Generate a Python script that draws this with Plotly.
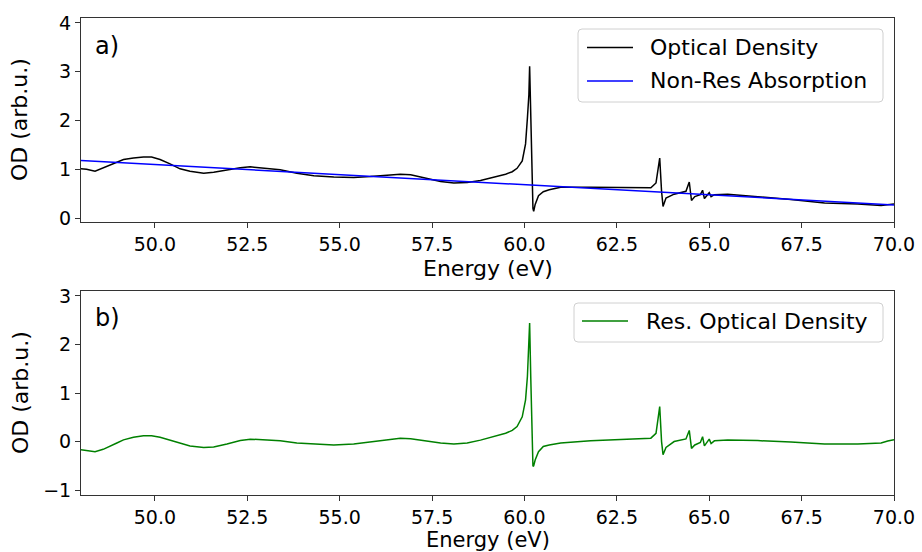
import plotly.graph_objects as go

energy = [48.0, 48.15, 48.38, 48.6, 48.79, 48.97, 49.15, 49.42, 49.69, 49.91, 50.14, 50.41, 50.68,
          50.95, 51.32, 51.59, 51.95, 52.31, 52.58, 52.85, 53.39, 53.84, 54.3, 54.84, 55.38, 55.83,
          56.19, 56.64, 56.92, 57.28, 57.73, 58.09, 58.45, 58.81, 59.27, 59.49, 59.67, 59.8, 59.94,
          60.03, 60.08, 60.12, 60.14, 60.17, 60.2, 60.23, 60.25, 60.29, 60.38, 60.51, 60.67, 60.98,
          61.79, 62.7, 63.42, 63.56, 63.66, 63.71, 63.75, 63.83, 64.05, 64.37, 64.46, 64.52, 64.61,
          64.76, 64.82, 64.87, 64.96, 65.0, 65.05, 65.14, 65.5, 66.31, 67.21, 68.12, 69.02, 69.65,
          69.83, 70.0]

optical_density = [1.01, 1.00, 0.96, 1.03, 1.08, 1.15, 1.20, 1.23, 1.25, 1.25, 1.20, 1.11, 1.01,
                   0.96, 0.92, 0.94, 0.99, 1.03, 1.05, 1.03, 0.99, 0.92, 0.87, 0.84, 0.83, 0.85,
                   0.87, 0.90, 0.89, 0.83, 0.75, 0.72, 0.73, 0.77, 0.85, 0.90, 0.95, 1.02, 1.17,
                   1.52, 2.05, 2.53, 3.11, 1.98, 0.98, 0.20, 0.14, 0.28, 0.46, 0.54, 0.58, 0.63,
                   0.63, 0.62, 0.62, 0.72, 1.23, 0.55, 0.24, 0.41, 0.49, 0.55, 0.74, 0.36, 0.44,
                   0.48, 0.57, 0.40, 0.49, 0.52, 0.44, 0.48, 0.49, 0.44, 0.38, 0.31, 0.29, 0.26,
                   0.28, 0.29]

nonres_energy = [48.0, 70.0]
nonres_absorption = [1.18, 0.27]

res_optical_density = [-0.17, -0.18, -0.21, -0.16, -0.10, -0.03, 0.035, 0.09, 0.12, 0.12, 0.09, 0.035, -0.03,
                       -0.09, -0.12, -0.11, -0.05, 0.02, 0.05, 0.035, 0.015, -0.03, -0.055, -0.07, -0.05, -0.01,
                       0.035, 0.07, 0.06, 0.015, -0.03, -0.05, -0.03, 0.03, 0.12, 0.17, 0.23, 0.31, 0.51,
                       0.86, 1.34, 1.89, 2.44, 1.34, 0.31, -0.51, -0.50, -0.38, -0.21, -0.10, -0.07, -0.03,
                       0.015, 0.05, 0.07, 0.17, 0.72, 0.0, -0.27, -0.12, 0.0, 0.055, 0.23, -0.14, -0.07,
                       -0.02, 0.10, -0.09, 0.02, 0.05, -0.04, 0.015, 0.03, 0.02, -0.01, -0.05, -0.05, -0.03,
                       0.01, 0.04]

x_ticks = [50.0, 52.5, 55.0, 57.5, 60.0, 62.5, 65.0, 67.5, 70.0]
x_ticklabels = ["50.0", "52.5", "55.0", "57.5", "60.0", "62.5", "65.0", "67.5", "70.0"]
top_yticks = [0, 1, 2, 3, 4]
bot_yticks = [-1, 0, 1, 2, 3]
bot_yticklabels = ["\u22121", "0", "1", "2", "3"]

x_title = "Energy (eV)"
y_title = "OD (arb.u.)"
top_names = ["Optical Density", "Non-Res Absorption"]
bot_names = ["Res. Optical Density"]

FONT = "DejaVu Sans"
TICK = 19
LAB = 22

# layout geometry (pixels)
W, H = 922, 552
L, R, T, B = 81, 28, 18, 57
PW = W - L - R
PH = H - T - B


def px_x(px):
    return (px - L) / PW


def px_y(py):
    return (H - B - py) / PH


COL_OD = "black"
COL_NR = "#0000ff"
COL_RES = "#008000"

fig = go.Figure()
fig.add_trace(go.Scatter(x=energy, y=optical_density, mode="lines", name=top_names[0],
                         line=dict(color=COL_OD, width=1.5), xaxis="x", yaxis="y", showlegend=False))
fig.add_trace(go.Scatter(x=nonres_energy, y=nonres_absorption, mode="lines", name=top_names[1],
                         line=dict(color=COL_NR, width=1.5), xaxis="x", yaxis="y", showlegend=False))
fig.add_trace(go.Scatter(x=energy, y=res_optical_density, mode="lines", name=bot_names[0],
                         line=dict(color=COL_RES, width=1.5), xaxis="x2", yaxis="y2", showlegend=False))

axis_common = dict(showline=True, linecolor="#333", linewidth=1, mirror=True, ticks="outside",
                   ticklen=5, tickcolor="#333", showgrid=False, zeroline=False, automargin=False,
                   tickfont=dict(family=FONT, size=TICK, color="black"))

top_lo = 1 - 204 / PH
bot_hi = 204 / PH

fig.update_layout(
    width=W, height=H,
    margin=dict(l=L, r=R, t=T, b=B),
    plot_bgcolor="white", paper_bgcolor="white",
    font=dict(family=FONT, color="black"),
    showlegend=False,
    xaxis=dict(domain=[0, 1], range=[48, 70], anchor="y", tickvals=x_ticks, ticktext=x_ticklabels,
               **axis_common),
    yaxis=dict(domain=[top_lo, 1], range=[-0.08, 4.1], anchor="x", tickvals=top_yticks, **axis_common),
    xaxis2=dict(domain=[0, 1], range=[48, 70], anchor="y2", tickvals=x_ticks, ticktext=x_ticklabels,
                **axis_common),
    yaxis2=dict(domain=[0, bot_hi], range=[-1.1, 3.1], anchor="x2", tickvals=bot_yticks,
                ticktext=bot_yticklabels, **axis_common),
)


def ann(text, x, y, size=LAB, xanchor="center", angle=0):
    fig.add_annotation(text=text, x=x, y=y, xref="paper", yref="paper", xanchor=xanchor,
                       yanchor="middle", showarrow=False, textangle=angle, borderpad=0,
                       font=dict(family=FONT, size=size, color="black"))


# axis titles
ann(x_title, 0.5, px_y(268))
ann(x_title, 0.5, px_y(539.5), size=21)
ann(y_title, px_x(20), px_y(120), angle=-90)
ann(y_title, px_x(20), px_y(393), angle=-90)

# panel labels
ann("a)", px_x(94), px_y(46), size=24, xanchor="left")
ann("b)", px_x(94), px_y(318), size=24, xanchor="left")


def rounded_box(x0p, y0p, x1p, y1p, r=4):
    x0, x1 = px_x(x0p), px_x(x1p)
    yt, yb = px_y(y0p), px_y(y1p)
    rx, ry = r / PW, r / PH
    path = (f"M {x0+rx},{yb} L {x1-rx},{yb} Q {x1},{yb} {x1},{yb+ry} "
            f"L {x1},{yt-ry} Q {x1},{yt} {x1-rx},{yt} L {x0+rx},{yt} Q {x0},{yt} {x0},{yt-ry} "
            f"L {x0},{yb+ry} Q {x0},{yb} {x0+rx},{yb} Z")
    fig.add_shape(type="path", path=path, xref="paper", yref="paper",
                  line=dict(color="#d0d0d0", width=1), fillcolor="rgba(255,255,255,0.8)", layer="above")


def legend_row(name, color, x_line0, x_line1, x_text, y):
    fig.add_shape(type="line", xref="paper", yref="paper", x0=px_x(x_line0), x1=px_x(x_line1),
                  y0=px_y(y), y1=px_y(y), line=dict(color=color, width=1.5), layer="above")
    ann(name, px_x(x_text), px_y(y), xanchor="left")


# top legend
rounded_box(578, 29, 883, 102)
legend_row(top_names[0], COL_OD, 587, 633, 649, 47.5)
legend_row(top_names[1], COL_NR, 587, 633, 649, 81)

# bottom legend
rounded_box(574, 303, 883, 342)
legend_row(bot_names[0], COL_RES, 582, 628, 645, 321)

fig.write_html("out.html")
